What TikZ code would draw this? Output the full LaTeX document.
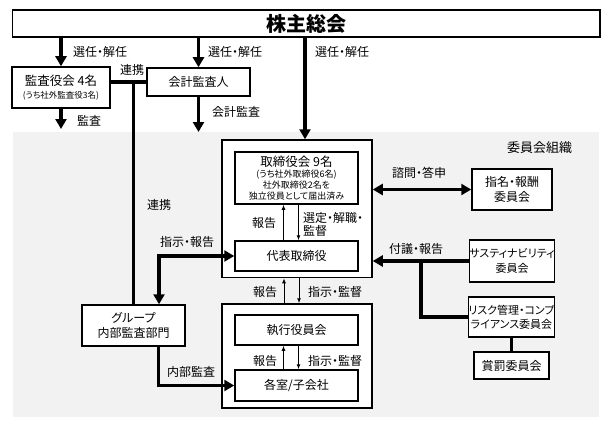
\documentclass[tikz,border=0pt]{standalone}
\usepackage{fontspec}
\setmainfont{Noto Sans CJK JP}[RawFeature=+palt]
\usetikzlibrary{arrows.meta}
\definecolor{bggray}{RGB}{242,242,242}
\begin{document}
\begin{tikzpicture}[x=1pt,y=-1pt,
    box/.style={draw,line width=1.5pt,fill=white,inner sep=0pt,align=center,font=\fontsize{12}{14.5}\selectfont},
    lbl/.style={anchor=west,inner sep=0pt,font=\fontsize{12}{13}\selectfont},
    link/.style={line width=3.5pt,>={Triangle[length=10pt,width=11pt]}},
    fine/.style={line width=1pt,>={Latex[length=5pt,width=4pt]}}]
    \useasboundingbox (0,0) rectangle (611,436);
    %% committee area
    \fill[bggray] (13,132) rectangle (599,417);
    \node[lbl,font=\fontsize{13}{15}\selectfont] (iinkai) at (507,148) {委員会組織};
    %% boxes
    \node[box,minimum width=587.5pt,minimum height=27pt,font=\fontsize{20}{22}\selectfont\bfseries] (soukai) at (306.25,23.5) {株主総会};
    \node[box,minimum width=98pt,minimum height=41pt,font=\fontsize{12.5}{13}\selectfont] (kansa) at (61,87.5) {監査役会 4名\\{\fontsize{8.5}{10}\selectfont (うち社外監査役3名)}};
    \node[box,minimum width=103pt,minimum height=28pt] (kaikei) at (198.5,82) {会計監査人};
    \node[box,minimum width=150pt,minimum height=137.5pt] (torigrp) at (297,208.75) {};
    \node[box,minimum width=123pt,minimum height=52pt,font=\fontsize{9}{11}\selectfont] (torikai) at (296.5,178) {{\fontsize{12.5}{13.5}\selectfont 取締役会 9名}\\(うち社外取締役6名)\\社外取締役2名を\\独立役員として届出済み};
    \node[box,minimum width=123pt,minimum height=30pt] (daihyo) at (296.5,256) {代表取締役};
    \node[box,minimum width=150pt,minimum height=104pt] (shikgrp) at (297,356) {};
    \node[box,minimum width=123pt,minimum height=30pt] (shikko) at (296.5,330) {執行役員会};
    \node[box,minimum width=123pt,minimum height=31pt] (kaku) at (296.5,385.5) {各室/子会社};
    \node[box,minimum width=103pt,minimum height=41pt] (group) at (133.5,325.5) {グループ\\内部監査部門};
    \node[box,minimum width=80pt,minimum height=41pt] (shimei) at (512,189.5) {指名・報酬\\委員会};
    \node[box,minimum width=84pt,minimum height=42pt,font=\fontsize{11}{14.5}\selectfont] (susta) at (512,261) {サスティナビリティ\\委員会};
    \node[box,minimum width=85pt,minimum height=40pt,font=\fontsize{11}{14}\selectfont] (risk) at (511.5,317) {リスク管理・コンプ\\ライアンス委員会};
    \node[box,minimum width=75pt,minimum height=27pt] (shobatsu) at (511.5,365.5) {賞罰委員会};
    %% election and audit
    \draw[link,->] (kansa.north |- soukai.south) -- (kansa.north);
    \draw[link,->] (kaikei.north |- soukai.south) -- (kaikei.north);
    \draw[link,->] ([xshift=8pt]torigrp.north |- soukai.south) -- ([xshift=8pt]torigrp.north);
    \coordinate (kansaout) at (61,129);
    \coordinate (kaikeiout) at (198.5,132);
    \draw[link,->] (kansa.south) -- (kansaout);
    \draw[link,->] (kaikei.south) -- (kaikeiout);
    %% cooperation
    \draw[link] (kansa.east |- kaikei.west) -- (kaikei.west);
    \draw[link] (group.north |- kaikei.west) -- (group.north);
    %% internal audit
    \draw[link,<->] ([xshift=25.5pt]group.north) |- (daihyo.west);
    \draw[link,->] ([xshift=25pt]group.south) |- (kaku.west);
    %% committees
    \draw[link,<->] (torigrp.east |- shimei.west) -- (shimei.west);
    \draw[link,->] (susta.west) -- (torigrp.east |- susta.west);
    \coordinate (fugi) at (421,261);
    \draw[link] (fugi) |- (risk.west);
    \draw[link] (risk.south) -- (shobatsu.north);
    %% report and supervision
    \draw[fine,->] ([xshift=-13pt]daihyo.north) -- ([xshift=-13pt]torikai.south);
    \draw[fine,->] ([xshift=2pt]torikai.south) -- ([xshift=2pt]daihyo.north);
    \draw[fine,->] ([xshift=-13pt]shikgrp.north) -- ([xshift=-13pt]torigrp.south);
    \draw[fine,->] ([xshift=2pt]torigrp.south) -- ([xshift=2pt]shikgrp.north);
    \draw[fine,->] ([xshift=-13pt]kaku.north) -- ([xshift=-13pt]shikko.south);
    \draw[fine,->] ([xshift=2pt]shikko.south) -- ([xshift=2pt]kaku.north);
    %% labels
    \node[lbl] (lsen1) at (73,52) {選任・解任};
    \node[lbl] (lsen2) at (208,52) {選任・解任};
    \node[lbl] (lsen3) at (315,52) {選任・解任};
    \node[lbl] (lkansa) at (77,121) {監査};
    \node[lbl] (lkaikei) at (212,112) {会計監査};
    \node[lbl] (lren1) at (120,70) {連携};
    \node[lbl] (lren2) at (147,205) {連携};
    \node[lbl] (lshiji) at (160,242) {指示・報告};
    \node[lbl] (lnaibu) at (167,372) {内部監査};
    \node[lbl] (lhok1) at (252,223) {報告};
    \node[lbl,align=left] (lsentei) at (303,224) {選定・解職・\\監督};
    \node[lbl] (lhok2) at (253,292) {報告};
    \node[lbl] (lshi2) at (308,292) {指示・監督};
    \node[lbl] (lhok3) at (253,361) {報告};
    \node[lbl] (lshi3) at (308,361) {指示・監督};
    \node[lbl] (lshimon) at (392,173) {諮問・答申};
    \node[lbl] (lfugi) at (389,249) {付議・報告};
\end{tikzpicture}
\end{document}
